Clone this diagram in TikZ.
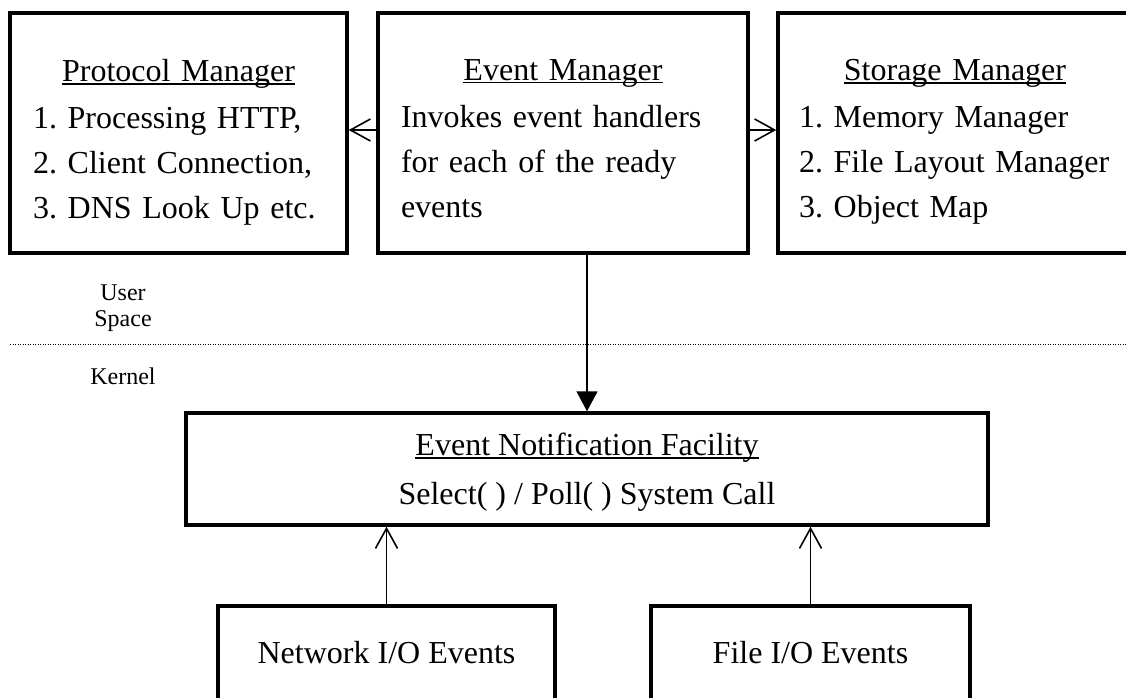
\documentclass[tikz,border=0pt]{standalone}
\usepackage{fontspec}
\setmainfont{Liberation Serif}
\usetikzlibrary{arrows.meta, positioning}
\newsavebox\ttlbox
\newcommand\ttl[1]{\sbox\ttlbox{#1}\rlap{\rule[-3pt]{\wd\ttlbox}{1.5pt}}\usebox\ttlbox}
\frenchspacing

\begin{document}
\begin{tikzpicture}[x=1pt, y=-1pt,
  mgrbox/.style={draw, line width=3.5pt, inner sep=0pt},
  boxtext/.style={inner sep=0pt, font=\fontsize{32}{45}\selectfont},
  sidelabel/.style={inner sep=0pt, font=\fontsize{24}{26}\selectfont},
  barb/.style={-{Straight Barb[length=20pt, width=22pt]}, line width=1.6pt},
  pointed/.style={-{Triangle[length=20pt, width=21pt]}, line width=1.6pt}]
\path[use as bounding box, clip] (0,0) rectangle (1126,698);

\node[mgrbox, minimum width=337pt, minimum height=240pt] (pm) at (178.5,133) {};
\node[mgrbox, minimum width=370pt, minimum height=240pt] (em) at (563,133) {};
\node[mgrbox, minimum width=354pt, minimum height=240pt] (sm) at (955,133) {};
\node[mgrbox, minimum width=802pt, minimum height=112pt] (enf) at (587,469) {};
\node[mgrbox, minimum width=337pt, minimum height=96pt] (nio) at (386.5,654) {};
\node[mgrbox, minimum width=319pt, minimum height=96pt] (fio) at (810.5,654) {};

\node[boxtext, text width=291pt, align=left, below=48pt of pm.north] (pmtext)
  {\centering\ttl{Protocol Manager}\par\vspace{2pt}\raggedright
   1. Processing HTTP,\\ 2. Client Connection,\\ 3. DNS Look Up etc.};
\node[boxtext, text width=324pt, align=left, below=48pt of em.north] (emtext)
  {\centering\ttl{Event Manager}\par\vspace{2pt}\raggedright
   Invokes event handlers\\ for each of the ready\\ events};
\node[boxtext, text width=312pt, align=left, below=48pt of sm.north] (smtext)
  {\centering\ttl{Storage Manager}\par\vspace{2pt}\raggedright
   1. Memory Manager\\ 2. File Layout Manager\\ 3. Object Map};
\node[boxtext, align=center, below=22pt of enf.north] (enftext)
  {\ttl{Event Notification Facility}\\[4pt] Select( ) / Poll( ) System Call};
\node[boxtext, below=37pt of nio.north] (niotext) {Network I/O Events};
\node[boxtext, below=37pt of fio.north] (fiotext) {File I/O Events};

\node[sidelabel, align=center, anchor=north] (user) at (123,285) {User\\Space};
\node[sidelabel, anchor=base] (kernel) at (123,384) {Kernel};

\coordinate (sepL) at (10,344);
\coordinate (sepR) at (1126,344);
\draw[line width=1pt, dash pattern=on 1pt off 1.5pt] (sepL) -- (sepR);

\draw[barb] ([yshift=3pt]em.west) -- ([yshift=3pt]pm.east);
\draw[barb] ([yshift=3pt]em.east) -- ([yshift=3pt]sm.west);
\draw[pointed] (em.south -| enf.north) -- (enf.north);
\draw[barb] (nio.north) -- (nio.north |- enf.south);
\draw[barb] (fio.north) -- (fio.north |- enf.south);
\end{tikzpicture}
\end{document}
